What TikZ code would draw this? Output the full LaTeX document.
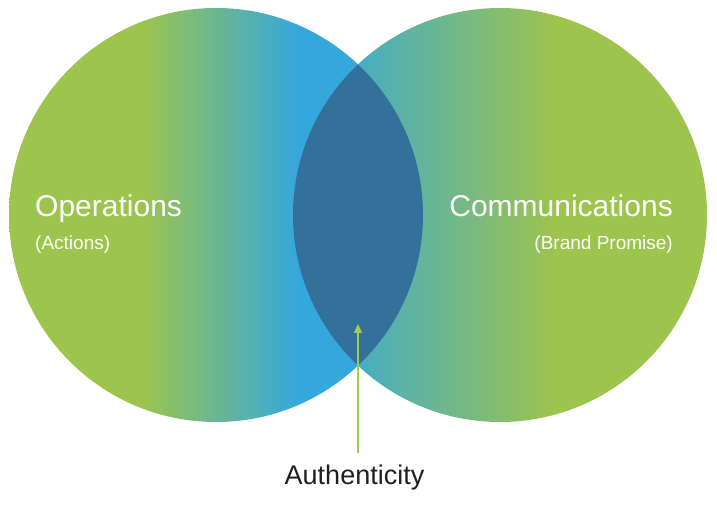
\documentclass[tikz,border=0pt]{standalone}
\usepackage{fontspec}
\setmainfont{Liberation Sans}
\usetikzlibrary{arrows.meta}
\definecolor{vgreen}{RGB}{157,196,77}
\definecolor{vblue}{RGB}{52,167,221}
\definecolor{lensblue}{RGB}{52,113,154}
\definecolor{pointgreen}{RGB}{160,204,80}
\definecolor{ink}{RGB}{35,31,32}
\pgfdeclarehorizontalshading{opsfade}{100bp}{color(0bp)=(vgreen); color(25bp)=(vgreen); color(41bp)=(vgreen); color(60bp)=(vblue); color(75bp)=(vblue); color(100bp)=(vblue)}
\pgfdeclarehorizontalshading{comfade}{100bp}{color(0bp)=(vblue); color(25bp)=(vblue); color(27bp)=(vblue); color(57bp)=(vgreen); color(75bp)=(vgreen); color(100bp)=(vgreen)}
\tikzset{
  ball/.style={circle,minimum size=414pt,inner sep=0pt,outer sep=0pt},
  bigtag/.style={text=white,inner sep=0pt,font=\fontsize{30}{36}\selectfont},
  smalltag/.style={text=white,inner sep=0pt,font=\fontsize{19}{23}\selectfont},
  keytag/.style={text=ink,inner sep=0pt,font=\fontsize{27}{32}\selectfont},
  pointer/.style={draw=pointgreen,line width=1.3pt,-{Triangle[width=8pt,length=9pt]}}
}

\begin{document}
\begin{tikzpicture}[x=1pt,y=1pt]
  \useasboundingbox (0,0) rectangle (717,521);
  \node[ball,shading=opsfade] (ops) at (216,306) {};
  \node[ball,shading=comfade] (com) at (500,306) {};
  \begin{scope}
    \clip (ops.center) circle[radius=207pt];
    \fill[lensblue] (com.center) circle[radius=207pt];
  \end{scope}
  \node[bigtag,anchor=base west] (opsname) at (35,304) {Operations};
  \node[smalltag,anchor=base west] (opsnote) at (35,271) {(Actions)};
  \node[bigtag,anchor=base east] (comname) at (673,304) {Communications};
  \node[smalltag,anchor=base east] (comnote) at (673,271) {(Brand Promise)};
  \node[keytag,anchor=base] (auth) at (354.5,36) {Authenticity};
  \coordinate (foot) at (358,68);
  \coordinate (tip) at (358,197);
  \draw[pointer] (foot) -- (tip);
\end{tikzpicture}
\end{document}
